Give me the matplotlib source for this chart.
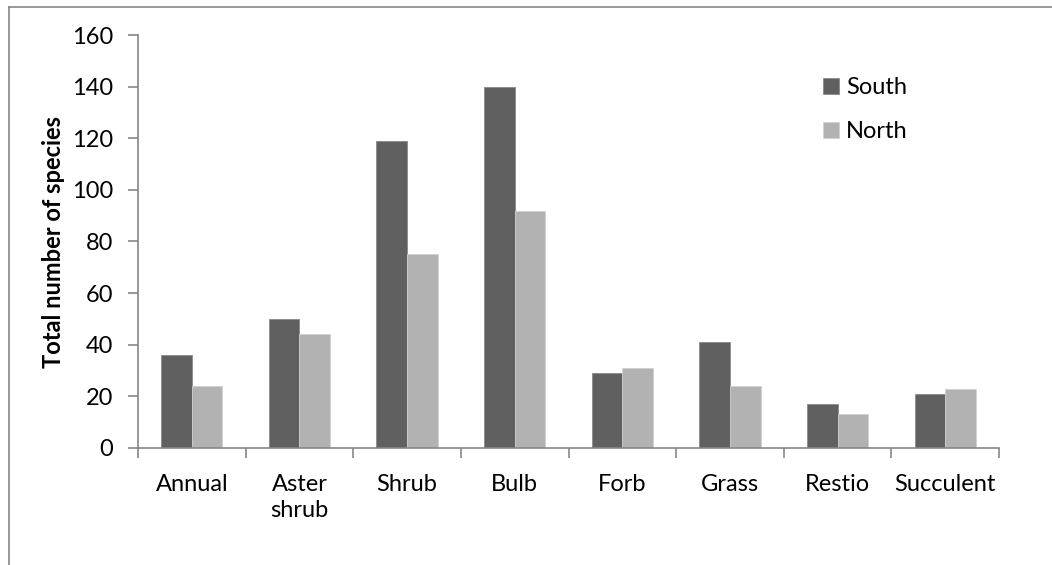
import numpy as np
import matplotlib.pyplot as plt
from matplotlib.lines import Line2D

categories = ['Annual', 'Aster\nshrub', 'Shrub', 'Bulb', 'Forb', 'Grass', 'Restio', 'Succulent']
south = [36, 50, 119, 140, 29, 41, 17, 21]
north = [24, 44, 75, 92, 31, 24, 13, 23]

plt.rcParams['font.family'] = ['Lato', 'DejaVu Sans']
fs = 17

fig = plt.figure(figsize=(10.52, 5.65), dpi=100)
ax = fig.add_axes([138 / 1052, 1 - 448 / 565, (999 - 138) / 1052, (448 - 35) / 565])

x = np.arange(len(categories))
w = 0.285
ax.bar(x - w / 2, south, w, color='#606060', edgecolor='#8a8a8a', linewidth=0.6, label='South')
ax.bar(x + w / 2, north, w, color='#b2b2b2', edgecolor='#d0d0d0', linewidth=0.6, label='North')

ax.set_xlim(-0.5, len(categories) - 0.5)
ax.set_ylim(0, 160)
ax.set_yticks(range(0, 161, 20))
ax.set_xticks(x)
ax.set_xticklabels(categories, fontsize=fs, va='top', linespacing=1.25)
ax.set_xticks(np.arange(-0.5, len(categories), 1), minor=True)
ax.tick_params(axis='x', which='major', length=0, pad=19)
ax.tick_params(axis='x', which='minor', length=7, width=1.2, color='#868686', direction='out')
ax.tick_params(axis='y', length=7, width=1.2, color='#868686', labelsize=fs, pad=11)

for s in ['top', 'right']:
    ax.spines[s].set_visible(False)
for s in ['left', 'bottom']:
    ax.spines[s].set_color('#868686')
    ax.spines[s].set_linewidth(1.2)

ax.set_ylabel('Total number of species', fontsize=fs, fontweight='bold', labelpad=5)

ax.legend(loc='upper left', bbox_to_anchor=(0.785, 0.92), frameon=False, fontsize=fs,
          handlelength=0.65, handleheight=0.65, handletextpad=0.3, labelspacing=0.95,
          borderaxespad=0)

# outer chart frame
fig.add_artist(Line2D([9 / 1052, 9 / 1052], [0, 1 - 7 / 565], transform=fig.transFigure, color='#868686', lw=1.2))
fig.add_artist(Line2D([9 / 1052, 1], [1 - 7 / 565, 1 - 7 / 565], transform=fig.transFigure, color='#868686', lw=1.2))

fig.savefig('out.png', dpi=100)
